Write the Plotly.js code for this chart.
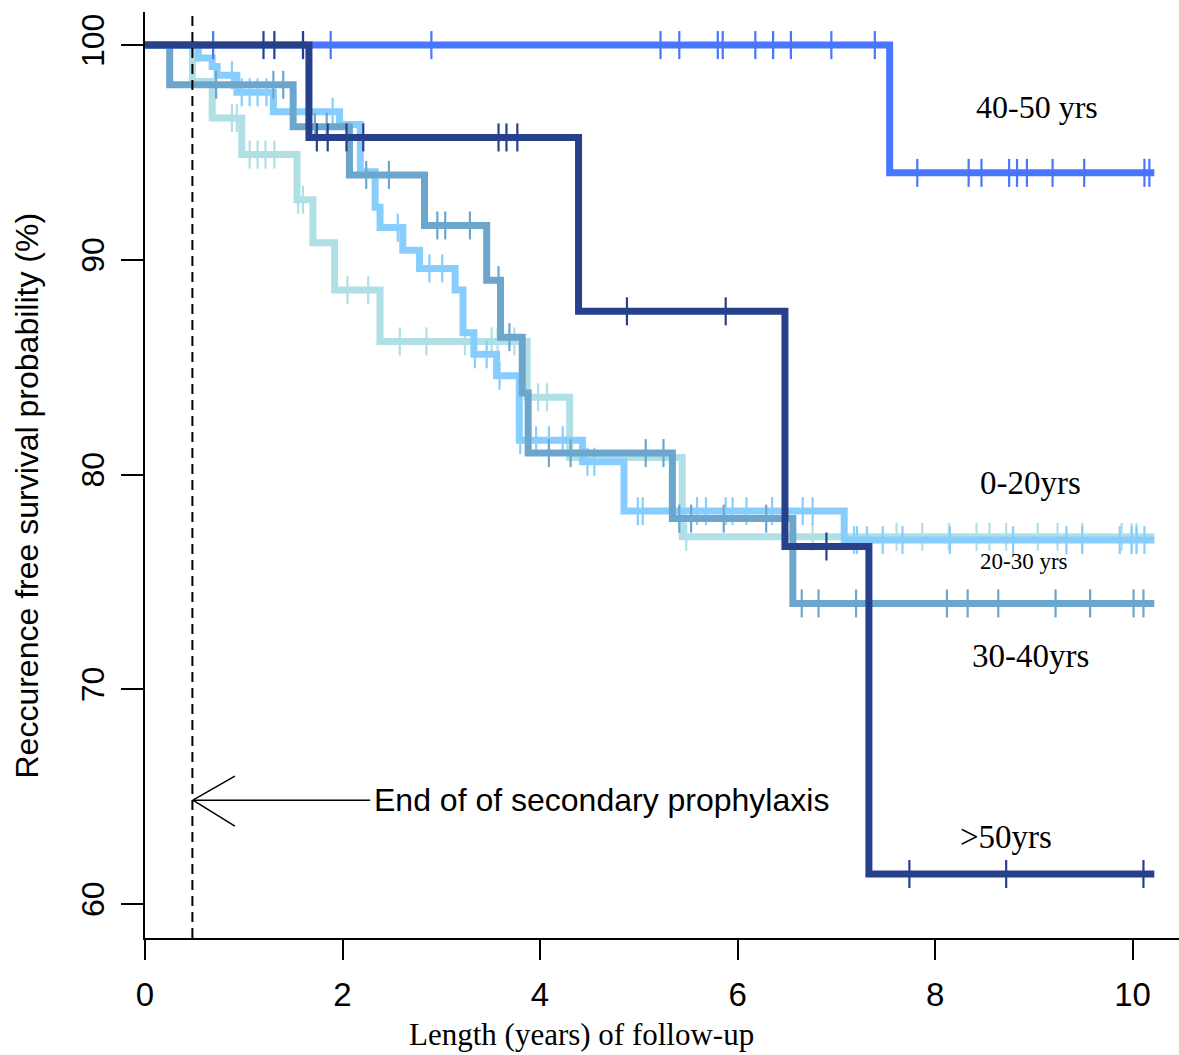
<!DOCTYPE html>
<html>
<head>
<meta charset="utf-8">
<script src="https://cdn.plot.ly/plotly-3.0.1.min.js"></script>
<style>html,body{margin:0;padding:0;background:#fff;}#chart{width:1179px;height:1055px;}</style>
</head>
<body>
<div id="chart"></div>
<script>
// ---- Data ----
const groupNames = ['0-20yrs', '20-30 yrs', '30-40yrs', '40-50 yrs', '>50yrs'];

// 0-20 yrs (pale blue)
const time020 = [0, 0.48, 0.68, 0.98, 1.54, 1.70, 1.92, 2.38, 3.87, 4.30, 5.44, 10.22];
const surv020 = [100, 98.3, 96.6, 94.9, 92.8, 90.8, 88.6, 86.2, 83.6, 80.8, 77.1, 77.1];
const cens020 = [0.88, 0.93, 1.06, 1.14, 1.22, 1.31, 1.55, 1.60, 2.05, 2.26, 2.58, 2.85, 3.24, 3.51, 3.57, 3.74, 3.98, 4.07, 5.48, 6.76, 7.61, 7.87, 8.14, 8.42, 8.55, 8.72, 9.04, 9.24, 9.49, 9.89, 9.99, 10.04];

// 20-30 yrs (light sky blue)
const time2030 = [0, 0.54, 0.68, 0.73, 0.93, 1.30, 1.97, 2.18, 2.33, 2.38, 2.61, 2.78, 3.14, 3.22, 3.33, 3.56, 3.79, 4.43, 4.85, 7.08, 10.22];
const surv2030 = [100, 99.4, 99.0, 98.6, 97.8, 96.9, 96.3, 94.1, 92.45, 91.5, 90.45, 89.6, 88.6, 86.6, 85.6, 84.6, 81.6, 80.6, 78.3, 76.95, 76.95];
const cens2030 = [0.88, 0.98, 1.06, 1.14, 1.23, 1.90, 2.56, 2.88, 3.01, 3.34, 3.46, 3.59, 3.80, 3.96, 4.09, 4.23, 4.48, 4.55, 4.99, 5.04, 5.59, 5.68, 5.88, 5.95, 6.09, 6.35, 6.66, 6.76, 7.18, 7.21, 7.31, 7.47, 7.67, 8.15, 8.79, 9.33, 9.49, 9.87, 9.99, 10.04, 10.12];

// 30-40 yrs (steel blue)
const time3040 = [0, 0.25, 1.50, 2.07, 2.83, 3.46, 3.60, 3.82, 3.88, 5.34, 6.56, 10.22];
const surv3040 = [100, 98.15, 96.2, 93.95, 91.6, 89.05, 86.4, 83.8, 81.0, 77.95, 74.0, 74.0];
const cens3040 = [0.72, 1.30, 1.40, 1.72, 1.84, 2.24, 2.47, 2.96, 3.04, 3.29, 3.58, 3.69, 4.09, 4.31, 5.07, 5.25, 5.41, 5.53, 5.86, 6.29, 6.65, 6.82, 7.20, 8.12, 8.33, 8.64, 9.22, 9.57, 10.01, 10.11];

// 40-50 yrs (bright blue)
const time4050 = [0, 7.54, 10.22];
const surv4050 = [100, 94.05, 94.05];
const cens4050 = [0.69, 1.60, 1.88, 2.90, 5.22, 5.41, 5.80, 5.85, 6.18, 6.36, 6.54, 6.95, 7.39, 7.82, 8.34, 8.47, 8.75, 8.83, 8.93, 9.19, 9.51, 10.12, 10.17];

// >50 yrs (navy)
const time50 = [0, 1.66, 4.39, 6.48, 7.33, 10.22];
const surv50 = [100, 95.7, 87.6, 76.65, 61.4, 61.4];
const cens50 = [1.20, 1.31, 1.60, 1.74, 1.85, 2.04, 2.21, 3.58, 3.66, 3.77, 4.88, 5.88, 6.90, 7.74, 8.72, 10.11];

const xTickVals = [0, 2, 4, 6, 8, 10];
const yTickVals = [60, 70, 80, 90, 100];
const prophylaxisEnd = 0.48;

// ---- Styling ----
const groups = [
  {name: groupNames[0], t: time020, s: surv020, c: cens020, color: '#B0E0E6'},
  {name: groupNames[1], t: time2030, s: surv2030, c: cens2030, color: '#87CEFF'},
  {name: groupNames[2], t: time3040, s: surv3040, c: cens3040, color: '#6CA6CD'},
  {name: groupNames[3], t: time4050, s: surv4050, c: cens4050, color: '#4876FF'},
  {name: groupNames[4], t: time50, s: surv50, c: cens50, color: '#27408B'}
];

function stepValue(times, surv, x) {
  let v = surv[0];
  for (let i = 0; i < times.length; i++) { if (times[i] <= x) v = surv[i]; }
  return v;
}

const traces = [];
groups.forEach(g => {
  traces.push({
    x: g.t, y: g.s, type: 'scatter', mode: 'lines', name: g.name,
    line: {shape: 'hv', color: g.color, width: 7}, hoverinfo: 'skip', showlegend: false
  });
  traces.push({
    x: g.c, y: g.c.map(v => stepValue(g.t, g.s, v)), type: 'scatter', mode: 'markers',
    name: g.name + ' censored', showlegend: false, hoverinfo: 'skip',
    marker: {symbol: 'line-ns', size: 20, color: g.color, line: {color: g.color, width: 2.2}}
  });
});

const sansNarrow = '"Liberation Sans Narrow", "Liberation Sans", Arial, sans-serif';
const sans = '"Liberation Sans", Arial, sans-serif';
const serif = '"Liberation Serif", "DejaVu Serif", serif';

const layout = {
  width: 1179, height: 1055,
  margin: {l: 145, r: 0, t: 12, b: 117, pad: 0},
  paper_bgcolor: '#fff', plot_bgcolor: '#fff',
  showlegend: false,
  xaxis: {
    range: [0, 10.47], showgrid: false, zeroline: false,
    showline: true, linecolor: '#000', linewidth: 2,
    ticks: 'outside', ticklen: 20, tickwidth: 2, tickcolor: '#000',
    tickvals: xTickVals, ticktext: xTickVals.map(String),
    tickfont: {family: sansNarrow, size: 33, color: '#000'},
    ticklabelstandoff: 6
  },
  yaxis: {
    range: [58.42, 101.54], showgrid: false, zeroline: false,
    showline: true, linecolor: '#000', linewidth: 2,
    ticks: 'outside', ticklen: 22, tickwidth: 2, tickcolor: '#000',
    tickvals: yTickVals, ticktext: yTickVals.map(String), tickangle: -90,
    tickfont: {family: sansNarrow, size: 32, color: '#000'},
    ticklabelstandoff: 4
  },
  shapes: [
    {type: 'line', xref: 'x', yref: 'paper', x0: prophylaxisEnd, x1: prophylaxisEnd, y0: 0, y1: 1,
     line: {color: '#000', width: 2, dash: '10px,6px'}},
    {type: 'line', xref: 'x', yref: 'y', x0: prophylaxisEnd + 0.005, x1: 2.28, y0: 64.84, y1: 64.84,
     line: {color: '#000', width: 1.5}},
    {type: 'line', xref: 'x', yref: 'y', x0: prophylaxisEnd + 0.005, x1: 0.91, y0: 64.84, y1: 65.96,
     line: {color: '#000', width: 1.5}},
    {type: 'line', xref: 'x', yref: 'y', x0: prophylaxisEnd + 0.005, x1: 0.91, y0: 64.84, y1: 63.63,
     line: {color: '#000', width: 1.5}}
  ],
  annotations: [
    {text: 'Reccurence free survival probability (%)', xref: 'paper', yref: 'paper',
     x: -0.114, y: 0.478, textangle: -90, showarrow: false, xanchor: 'center', yanchor: 'middle',
     font: {family: sans, size: 32, color: '#000'}},
    {text: 'Length (years) of follow-up', xref: 'x', yref: 'paper',
     x: 4.42, y: -0.104, showarrow: false, xanchor: 'center', yanchor: 'middle',
     font: {family: serif, size: 31, color: '#000'}},
    {text: 'End of of secondary prophylaxis', xref: 'x', yref: 'y', x: 2.30, y: 64.84,
     showarrow: false, xanchor: 'left', yanchor: 'middle',
     font: {family: sans, size: 32, color: '#000'}},
    {text: '40-50 yrs', xref: 'x', yref: 'y', x: 9.03, y: 97.11, showarrow: false,
     font: {family: serif, size: 32, color: '#000'}},
    {text: '0-20yrs', xref: 'x', yref: 'y', x: 8.97, y: 79.6, showarrow: false,
     font: {family: serif, size: 33, color: '#000'}},
    {text: '20-30 yrs', xref: 'x', yref: 'y', x: 8.90, y: 75.93, showarrow: false,
     font: {family: serif, size: 23, color: '#000'}},
    {text: '30-40yrs', xref: 'x', yref: 'y', x: 8.97, y: 71.55, showarrow: false,
     font: {family: serif, size: 33, color: '#000'}},
    {text: '>50yrs', xref: 'x', yref: 'y', x: 8.72, y: 63.12, showarrow: false,
     font: {family: serif, size: 33, color: '#000'}}
  ]
};

Plotly.newPlot('chart', traces, layout, {staticPlot: true, displayModeBar: false});
</script>
</body>
</html>
